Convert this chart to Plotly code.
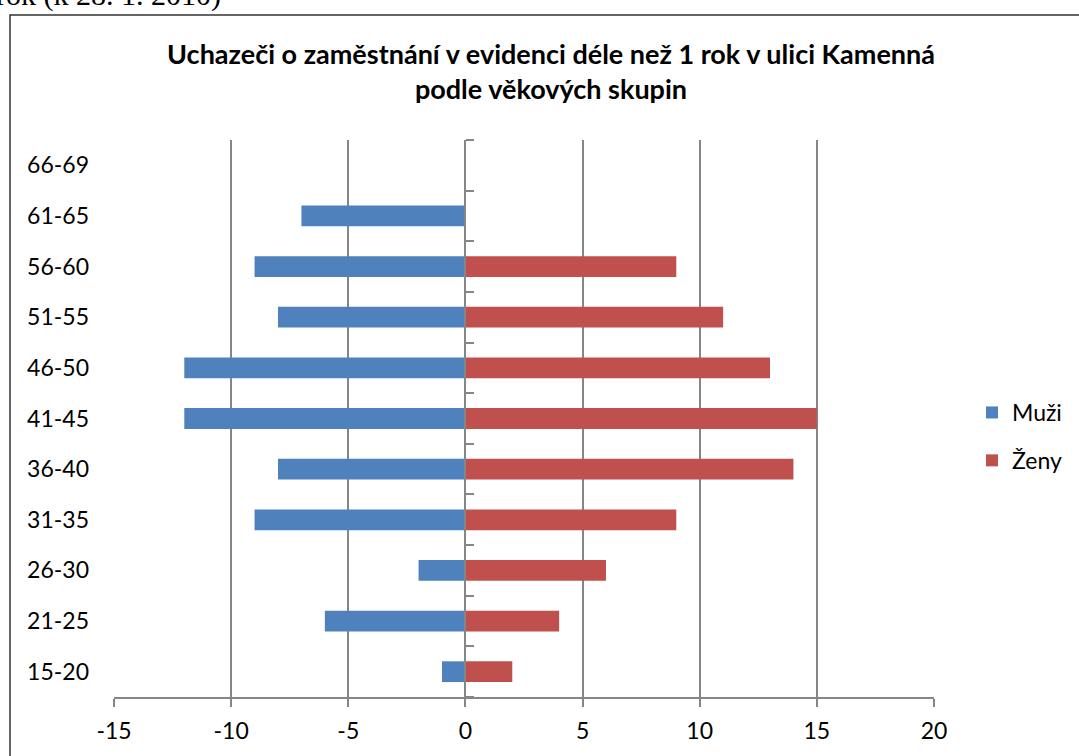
import plotly.graph_objects as go

categories = ["15-20", "21-25", "26-30", "31-35", "36-40", "41-45",
              "46-50", "51-55", "56-60", "61-65", "66-69"]
muzi = [-1, -6, -2, -9, -8, -12, -12, -8, -9, -7, 0]
zeny = [2, 4, 6, 9, 14, 15, 13, 11, 9, 0, 0]
x_ticks = [-15, -10, -5, 0, 5, 10, 15, 20]
x_tick_labels = ["-15", "-10", "-5", "0", "5", "10", "15", "20"]
title_text = ("Uchazeči o zaměstnání v evidenci déle než 1 rok v ulici Kamenná"
              "<br>podle věkových skupin")
header_text = "rok (k 28. 1. 2010)"

W, H = 1079, 756
L, R, T, B = 114, 145, 140, 59
PW, PH = W - L - R, H - T - B

def px_x(p):
    return (p - L) / PW

def px_y(p):
    return (H - B - p) / PH

FONT = "Lato"
GRID = "#868686"

fig = go.Figure()
fig.add_trace(go.Bar(y=categories, x=muzi, orientation="h", name="Muži",
                     marker=dict(color="#4F81BD", line=dict(width=0)),
                     width=0.41, legendgroup="m"))
fig.add_trace(go.Bar(y=categories, x=zeny, orientation="h", name="Ženy",
                     marker=dict(color="#C0504D", line=dict(width=0)),
                     width=0.41, legendgroup="z"))
# invisible trace so the category axis at x=0 exists
fig.add_trace(go.Scatter(x=[None], y=[None], yaxis="y2", showlegend=False,
                         hoverinfo="skip"))

boundaries = [i - 0.5 for i in range(len(categories) + 1)]

fig.update_layout(
    width=W, height=H,
    margin=dict(l=L, r=R, t=T, b=B, autoexpand=False),
    paper_bgcolor="white", plot_bgcolor="white",
    barmode="overlay",
    font=dict(family=FONT, size=23, color="#000000"),
    title=dict(text=title_text, x=551 / W, xanchor="center",
               y=1 - 64 / H, yanchor="middle",
               font=dict(family=FONT, size=27, color="#000000", weight="bold")),
    xaxis=dict(range=[-15, 20], tickvals=x_ticks, ticktext=x_tick_labels,
               showgrid=True, gridcolor=GRID, gridwidth=2, zeroline=False,
               showline=True, linecolor=GRID, linewidth=2,
               ticks="outside", ticklen=8, tickcolor=GRID, tickwidth=2,
               ticklabelstandoff=4, tickfont=dict(size=23)),
    yaxis=dict(type="category", categoryorder="array", categoryarray=categories,
               range=[-0.5, len(categories) - 0.5], showgrid=False,
               zeroline=False, showline=False, ticks="",
               ticklabelstandoff=24, tickfont=dict(size=23)),
    yaxis2=dict(overlaying="y", anchor="free", position=15 / 35, side="right",
                range=[-0.5, len(categories) - 0.5], showgrid=False,
                zeroline=False, showline=True, linecolor=GRID, linewidth=2,
                ticks="outside", tickvals=boundaries, ticklen=8,
                tickcolor=GRID, tickwidth=2, showticklabels=False),
    legend=dict(x=px_x(972), xanchor="left", y=px_y(391), yanchor="top",
                tracegroupgap=15, font=dict(size=23), bgcolor="rgba(0,0,0,0)"),
    shapes=[dict(type="rect", xref="paper", yref="paper",
                 x0=px_x(10), x1=px_x(1200), y0=px_y(900), y1=px_y(15),
                 line=dict(color="#333333", width=1.5), layer="below")],
    annotations=[dict(text=header_text, xref="paper", yref="paper",
                      x=px_x(223), xanchor="right", y=px_y(14), yanchor="bottom",
                      showarrow=False,
                      font=dict(family="Liberation Serif", size=30, color="#000"))],
)

fig.write_html("out.html",
               config={"displayModeBar": False},
               post_script="document.body.style.margin='0';"
                           "document.body.style.overflow='hidden';")
